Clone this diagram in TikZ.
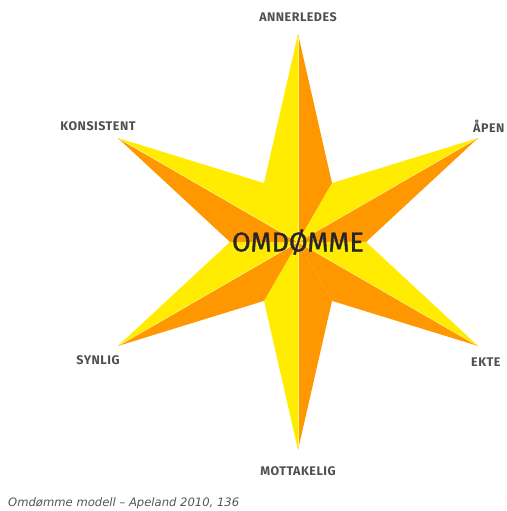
\documentclass[tikz,border=0pt]{standalone}
\usepackage{fontspec}
\setmainfont{DejaVu Sans}
\newfontfamily\labelfont{Fira Sans}[LetterSpace=4]
\newfontfamily\hubfont{Fira Sans}[FakeBold=1.2]
\usepackage{xcolor}
\usetikzlibrary{positioning}
\definecolor{staryellow}{HTML}{FFEC00}
\definecolor{starorange}{HTML}{FF9800}
\definecolor{labelgray}{HTML}{505050}
\definecolor{captiongray}{HTML}{555555}

\begin{document}
\begin{tikzpicture}[
  x=1pt, y=1pt,
  pointlabel/.style={font=\labelfont\bfseries\fontsize{12.5}{14}\selectfont, text=labelgray, inner sep=1pt},
  hublabel/.style={font=\hubfont\fontsize{27}{30}\selectfont, text=black!85, inner sep=0pt},
  caption/.style={font=\itshape\fontsize{11.6}{13}\selectfont, text=captiongray, inner sep=0pt},
  ray/.style={line width=0.6pt, white!45!staryellow}
]
\useasboundingbox (0,0) rectangle (506,511);
\coordinate (hub) at (298,269);

% star: each point is two triangles, tip / valley / colour
\begin{scope}[shift={(hub)}]
  \foreach \tip/\val/\col in {90/120/staryellow, 90/60/starorange,
      30/60/staryellow, 30/0/starorange, -30/0/staryellow, -30/-60/starorange,
      -90/-60/starorange, -90/-120/staryellow, -150/-120/starorange,
      -150/180/staryellow, 150/180/starorange, 150/120/staryellow}
    \fill[\col] (0,0) -- (\tip:208) -- (\val:68) -- cycle;
  \foreach \tip in {90,30,-30,-90,-150,150}
    \draw[ray] (0,0) -- (\tip:205);
\end{scope}

\node[hublabel] (omdomme) at (hub) {OMDØMME};

\node[pointlabel] (annerledes) at (298,494) {ANNERLEDES};
\node[pointlabel] (konsistent) at (98,385) {KONSISTENT};
\node[pointlabel, anchor=west] (apen) at (472,385) {ÅPEN};
\node[pointlabel] (synlig) at (98,151) {SYNLIG};
\node[pointlabel, anchor=west] (ekte) at (470,149) {EKTE};
\node[pointlabel] (mottakelig) at (298,40) {MOTTAKELIG};

\node[caption, anchor=west] (kilde) at (8,8) {Omdømme modell – Apeland 2010, 136};
\end{tikzpicture}
\end{document}
